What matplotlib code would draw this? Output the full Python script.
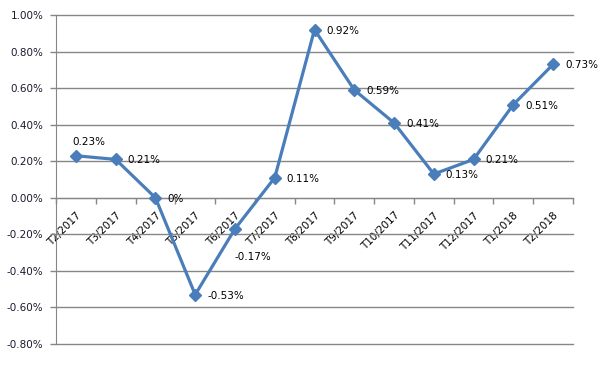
"""Monthly change line chart, Excel-style, with data labels."""

import matplotlib

matplotlib.use("Agg")
import matplotlib.pyplot as plt  # noqa: E402
from matplotlib.ticker import FuncFormatter, MultipleLocator  # noqa: E402

months = [
    "T2/2017", "T3/2017", "T4/2017", "T5/2017", "T6/2017", "T7/2017",
    "T8/2017", "T9/2017", "T10/2017", "T11/2017", "T12/2017", "T1/2018",
    "T2/2018",
]
change_pct = [0.23, 0.21, 0.00, -0.53, -0.17, 0.11, 0.92, 0.59, 0.41,
              0.13, 0.21, 0.51, 0.73]
point_labels = ["0.23%", "0.21%", "0%", "-0.53%", "-0.17%", "0.11%", "0.92%",
                "0.59%", "0.41%", "0.13%", "0.21%", "0.51%", "0.73%"]

LINE = "#4a7ebb"
GRID = "#868686"

plt.rcParams["font.family"] = ["DejaVu Sans"]
plt.rcParams["font.size"] = 7.5

fig = plt.figure(figsize=(6.01, 3.79), dpi=100)
ax = fig.add_axes([0.0932, 0.0923, 0.8602, 0.8681])

x = list(range(len(months)))
ax.plot(x, change_pct, color=LINE, linewidth=2.3, marker="D",
        markersize=6, markerfacecolor=LINE, markeredgecolor=LINE,
        solid_joinstyle="miter", zorder=3)

# most labels sit to the right of their point; a couple were moved by hand
offsets = {0: (-4, 14), 4: (0, -28)}
for i, (xv, yv, lab) in enumerate(zip(x, change_pct, point_labels)):
    dx, dy = offsets.get(i, (12, -1))
    ax.annotate(lab, (xv, yv), xytext=(dx, dy), textcoords="offset pixels",
                ha="left", va="center", fontsize=7.5, color="black", zorder=4)

ax.set_xlim(-0.5, len(months) - 0.5)
ax.set_ylim(-0.8, 1.0)
ax.yaxis.set_major_locator(MultipleLocator(0.2))
ax.yaxis.set_major_formatter(FuncFormatter(lambda v, _: f"{v:.2f}%"))
ax.grid(axis="y", color=GRID, linewidth=1.0)
ax.set_axisbelow(True)
for gl in ax.get_ygridlines():
    gl.set_clip_on(False)

for side in ("top", "right"):
    ax.spines[side].set_visible(False)
ax.spines["left"].set_color(GRID)
ax.spines["bottom"].set_color(GRID)
ax.spines["bottom"].set_position(("data", 0))

ax.set_xticks(x)
ax.set_xticklabels(months, rotation=45, ha="right", va="top",
                   rotation_mode="anchor")
ax.set_xticks([i - 0.5 for i in range(len(months) + 1)], minor=True)
ax.tick_params(axis="x", which="major", length=0, pad=9, labelsize=7.5)
ax.tick_params(axis="x", which="minor", length=4, color=GRID, width=1)
ax.tick_params(axis="y", length=4, color=GRID, width=1, pad=5,
               labelcolor="#1a1a2e", labelsize=7.5)

fig.savefig("out.png", dpi=100)
plt.close(fig)
